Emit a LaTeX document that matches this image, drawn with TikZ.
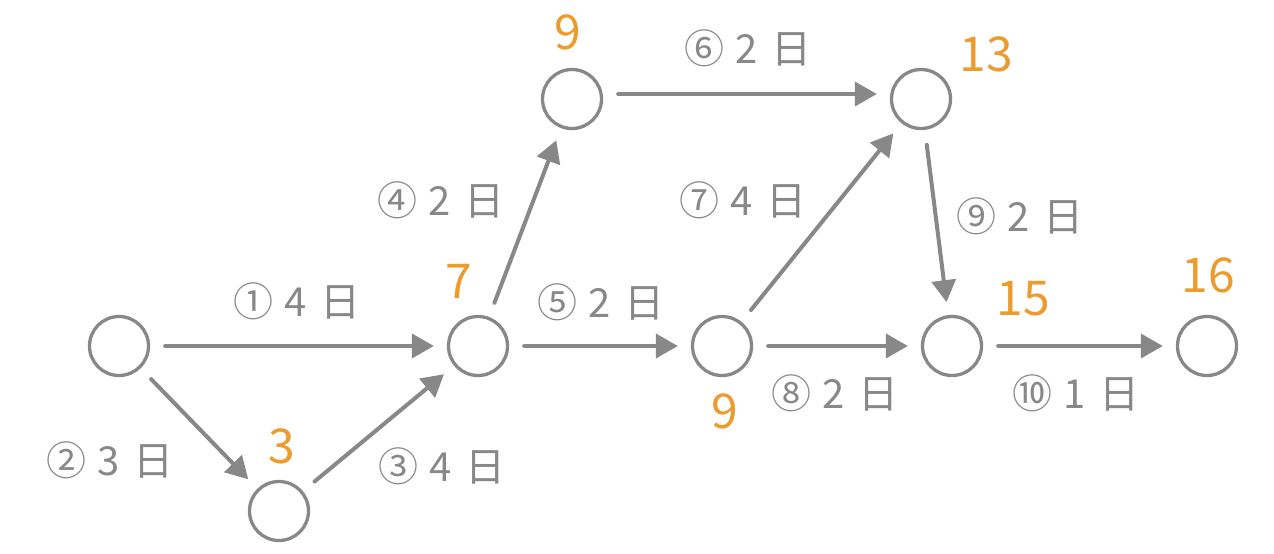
\documentclass[tikz,border=0pt]{standalone}
\usepackage{fontspec}
\setmainfont{Noto Sans CJK JP}
\usetikzlibrary{arrows.meta}
\definecolor{linegray}{HTML}{888888}
\definecolor{numorange}{HTML}{EC9B2E}
\tikzset{
  evt/.style={circle, draw=linegray, line width=3.3pt, minimum size=59pt, inner sep=0pt},
  act/.style={draw=linegray, line width=4pt, line cap=round, shorten <=15pt, shorten >=13pt,
    -{Triangle[length=22pt,width=24pt]}},
  lbl/.style={text=linegray, font=\fontsize{40}{44}\selectfont, inner sep=0pt},
  num/.style={text=numorange, font=\fontsize{48}{52}\selectfont, inner sep=0pt}
}
\newcommand{\dur}[3]{#1\hspace{11pt}#2\hspace{13pt}#3}
\begin{document}
\begin{tikzpicture}[x=1pt,y=-1pt]
\useasboundingbox (0,0) rectangle (1274,554);
\node[evt] (A) at (119,346) {};
\node[evt] (B) at (279,511) {};
\node[evt] (C) at (478,346) {};
\node[evt] (D) at (572,99) {};
\node[evt] (F) at (921,99) {};
\node[evt] (E) at (722,346) {};
\node[evt] (G) at (952,346) {};
\node[evt] (H) at (1207,346) {};

\draw[act] (A) -- (C);
\draw[act] (A) -- (B);
\draw[act] (B) -- (C);
\draw[act] (C) -- (D);
\draw[act] ([yshift=5pt]D.east) -- ([yshift=5pt]F.west);
\draw[act] (C) -- (E);
\draw[act] (E) -- (F);
\draw[act] (E) -- (G);
\draw[act] (F) -- (G);
\draw[act] (G) -- (H);

\node[lbl] (l1) at (297,301) {\dur{①}{4}{日}};
\node[lbl] (l2) at (110,460) {\dur{②}{3}{日}};
\node[lbl] (l3) at (442,466) {\dur{③}{4}{日}};
\node[lbl] (l4) at (441,200) {\dur{④}{2}{日}};
\node[lbl] (l5) at (601,302) {\dur{⑤}{2}{日}};
\node[lbl] (l6) at (748,48) {\dur{⑥}{2}{日}};
\node[lbl] (l7) at (743,200) {\dur{⑦}{4}{日}};
\node[lbl] (l8) at (835,393) {\dur{⑧}{2}{日}};
\node[lbl] (l9) at (1020,216) {\dur{⑨}{2}{日}};
\node[lbl] (l10) at (1076,393) {\dur{⑩}{1}{日}};

\node[num] (nD) at (568,32) {9};
\node[num] (nC) at (459,281) {7};
\node[num] (nB) at (282,446) {3};
\node[num] (nF) at (986,54) {13};
\node[num] (nG) at (1023,299) {15};
\node[num] (nH) at (1208,275) {16};
\node[num] (nE) at (725,411) {9};
\end{tikzpicture}
\end{document}
